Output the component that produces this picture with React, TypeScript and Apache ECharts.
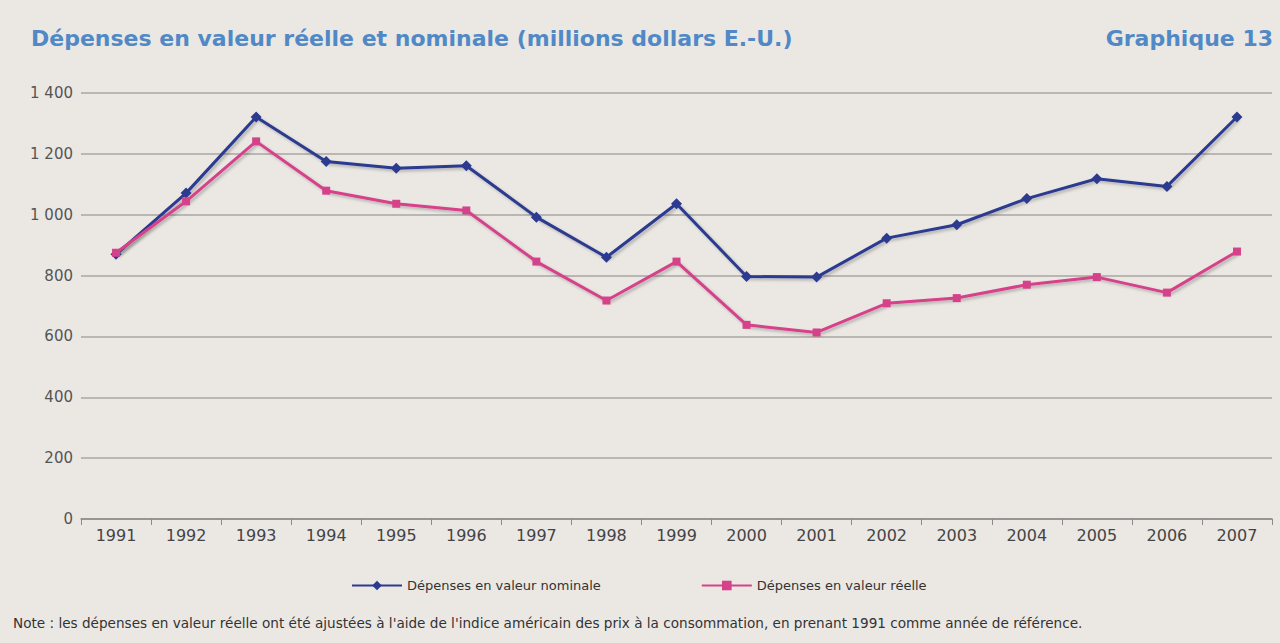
import React, { useEffect, useRef } from "react";
import * as echarts from "echarts";

const years = ["1991","1992","1993","1994","1995","1996","1997","1998","1999","2000","2001","2002","2003","2004","2005","2006","2007"];
const nominal = [870, 1071, 1321, 1175, 1153, 1161, 992, 860, 1036, 797, 795, 923, 967, 1053, 1118, 1093, 1321];
const real = [875, 1044, 1241, 1079, 1036, 1014, 846, 718, 846, 638, 613, 709, 726, 770, 795, 744, 879];
const titleText = "Dépenses en valeur réelle et nominale (millions dollars E.-U.)";
const chartNumber = "Graphique 13";
const noteText = "Note : les dépenses en valeur réelle ont été ajustées à l'aide de l'indice américain des prix à la consommation, en prenant 1991 comme année de référence.";
const seriesNames = ["Dépenses en valeur nominale", "Dépenses en valeur réelle"];

export default function App() {
  const ref = useRef<HTMLDivElement>(null);
  useEffect(() => {
    document.body.style.margin = "0";
    const chart = echarts.init(ref.current!, null, { renderer: "svg" });
    const shadow = { shadowColor: "rgba(0,0,0,0.25)", shadowBlur: 3, shadowOffsetX: 2, shadowOffsetY: 2 };
    chart.setOption({
      animation: false,
      backgroundColor: "#ebe8e4",
      title: [
        {
          text: titleText,
          left: 26,
          top: 22,
          textStyle: { color: "#5089c6", fontSize: 22, fontWeight: "bold", fontFamily: "DejaVu Sans" },
        },
        {
          text: chartNumber,
          right: 2,
          top: 22,
          textStyle: { color: "#5089c6", fontSize: 22, fontWeight: "bold", fontFamily: "DejaVu Sans" },
        },
        {
          text: noteText,
          left: 8,
          top: 611,
          textStyle: { color: "#333", fontSize: 13.6, fontWeight: "normal", fontFamily: "DejaVu Sans" },
        },
      ],
      legend: {
        data: seriesNames,
        left: 346,
        top: 574,
        itemWidth: 50,
        itemHeight: 12,
        itemGap: 100,
        textStyle: { color: "#333", fontSize: 13, fontFamily: "DejaVu Sans" },
      },
      grid: { left: 81, right: 8, top: 93, bottom: 124 },
      xAxis: {
        type: "category",
        data: years,
        boundaryGap: true,
        axisLine: { lineStyle: { color: "#8a8a8a", width: 1.5 } },
        axisTick: { show: true, length: 6, lineStyle: { color: "#8a8a8a" } },
        axisLabel: { color: "#444", fontSize: 16, fontFamily: "DejaVu Sans", margin: 8 },
      },
      yAxis: {
        type: "value",
        min: 0,
        max: 1400,
        interval: 200,
        axisLine: { show: false },
        axisTick: { show: false },
        splitLine: { lineStyle: { color: "#a9a6a3", width: 1.5 } },
        axisLabel: {
          color: "#555",
          fontSize: 15,
          fontFamily: "DejaVu Sans",
          margin: 8,
          formatter: (v: number) => (v >= 1000 ? Math.floor(v / 1000) + " " + String(v % 1000).padStart(3, "0") : String(v)),
        },
      },
      series: [
        {
          name: seriesNames[0],
          type: "line",
          data: nominal,
          symbol: "diamond",
          symbolSize: 11,
          lineStyle: { color: "#2c3a90", width: 3, ...shadow },
          itemStyle: { color: "#2c3a90" },
        },
        {
          name: seriesNames[1],
          type: "line",
          data: real,
          symbol: "rect",
          symbolSize: 8,
          lineStyle: { color: "#d6428a", width: 3, ...shadow },
          itemStyle: { color: "#d6428a" },
        },
      ],
    });
    return () => chart.dispose();
  }, []);
  return <div ref={ref} style={{ width: 1280, height: 643 }} />;
}
